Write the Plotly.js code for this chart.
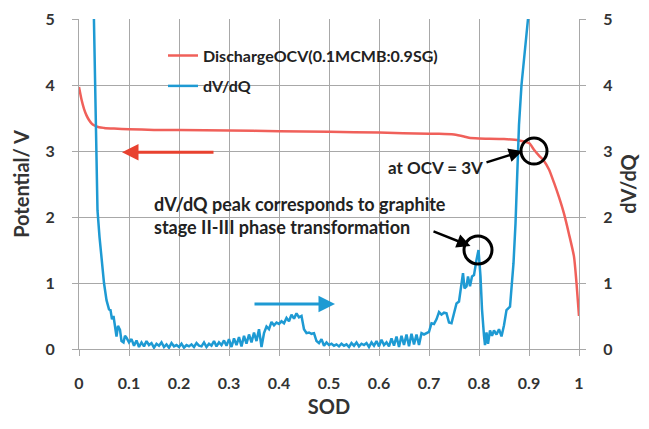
<!DOCTYPE html>
<html>
<head>
<meta charset="utf-8">
<script src="https://cdn.plot.ly/plotly-3.0.1.min.js"></script>
<style>html,body{margin:0;padding:0;background:#fff;}#chart{width:649px;height:429px;}</style>
</head>
<body>
<div id="chart"></div>
<script>
// Discharge OCV curve (left axis, V)
const ocvSOD = [0, 0.005, 0.01, 0.015, 0.02, 0.025, 0.03, 0.04, 0.05, 0.07, 0.1, 0.15, 0.2, 0.3, 0.4, 0.5, 0.6, 0.7, 0.72, 0.75, 0.77, 0.78, 0.8, 0.85, 0.88, 0.9, 0.91, 0.92, 0.93, 0.94, 0.95, 0.96, 0.97, 0.98, 0.99, 0.995, 1.0];
const ocvV = [3.97, 3.78, 3.64, 3.54, 3.47, 3.42, 3.39, 3.36, 3.35, 3.34, 3.33, 3.32, 3.32, 3.31, 3.30, 3.29, 3.28, 3.26, 3.26, 3.25, 3.22, 3.20, 3.19, 3.18, 3.16, 3.12, 3.02, 2.93, 2.85, 2.72, 2.52, 2.30, 2.05, 1.74, 1.40, 1.00, 0.50];

// dV/dQ curve (right axis)
const dvdqSOD = [0.02, 0.025, 0.029, 0.032, 0.034, 0.037, 0.041, 0.045, 0.05, 0.055, 0.06, 0.063, 0.066, 0.069, 0.072, 0.075, 0.078, 0.082, 0.085, 0.089, 0.092, 0.095, 0.1,
  0.105, 0.11, 0.115, 0.12, 0.125, 0.13, 0.135, 0.14, 0.145, 0.15, 0.155, 0.16, 0.165, 0.17, 0.175, 0.18, 0.185, 0.19, 0.195, 0.2,
  0.205, 0.21, 0.215, 0.22, 0.225, 0.23, 0.235, 0.24, 0.245, 0.25, 0.255, 0.26, 0.265, 0.27, 0.275, 0.28, 0.285, 0.29, 0.295, 0.3,
  0.305, 0.31, 0.315, 0.32, 0.325, 0.33, 0.335, 0.34, 0.345, 0.35, 0.355, 0.36, 0.365, 0.37, 0.375, 0.38, 0.385, 0.39, 0.395, 0.4,
  0.405, 0.41, 0.415, 0.42, 0.425, 0.43, 0.435, 0.44, 0.445, 0.45, 0.455, 0.46, 0.465, 0.47, 0.475, 0.48, 0.485, 0.49, 0.495, 0.5,
  0.505, 0.51, 0.515, 0.52, 0.525, 0.53, 0.535, 0.54, 0.545, 0.55, 0.555, 0.56, 0.565, 0.57, 0.575, 0.58, 0.585, 0.59, 0.595, 0.6,
  0.605, 0.61, 0.615, 0.62, 0.625, 0.63, 0.635, 0.64, 0.645, 0.65, 0.655, 0.66, 0.665, 0.67, 0.675, 0.68, 0.685, 0.69, 0.695, 0.7,
  0.705, 0.71, 0.715, 0.72, 0.725, 0.73, 0.735, 0.74, 0.745, 0.75, 0.755, 0.76, 0.765, 0.768, 0.771, 0.775, 0.778, 0.782, 0.786, 0.79, 0.795, 0.799,
  0.803, 0.806, 0.81, 0.812, 0.815, 0.818, 0.822, 0.826, 0.83, 0.835, 0.84, 0.845, 0.85, 0.855, 0.862, 0.866, 0.869, 0.873, 0.877, 0.88, 0.885, 0.89, 0.898, 0.905];
const dvdqVal = [9, 7, 5.0, 4.0, 3.36, 2.1, 1.7, 1.35, 1.0, 0.74, 0.6, 0.59, 0.45, 0.5, 0.3, 0.19, 0.35, 0.29, 0.12, 0.10, 0.2, 0.17, 0.1,
  0.15, 0.05, 0.13, 0.03, 0.1, 0.04, 0.12, 0.06, 0.09, 0.02, 0.08, 0.05, 0.1, 0.03, 0.07, 0.02, 0.09, 0.04, 0.06, 0.03,
  0.08, 0.02, 0.06, 0.04, 0.07, 0.03, 0.09, 0.05, 0.04, 0.1, 0.03, 0.08, 0.05, 0.12, 0.04, 0.1, 0.06, 0.13, 0.05, 0.15,
  0.03, 0.16, 0.06, 0.18, 0.04, 0.2, 0.08, 0.22, 0.1, 0.25, 0.12, 0.3, 0.03, 0.24, 0.34, 0.3, 0.41, 0.36, 0.4, 0.38,
  0.42, 0.39, 0.47, 0.42, 0.52, 0.46, 0.54, 0.48, 0.5, 0.3, 0.24, 0.25, 0.23, 0.24, 0.12, 0.09, 0.15, 0.05, 0.1, 0.06,
  0.08, 0.05, 0.07, 0.04, 0.08, 0.05, 0.07, 0.03, 0.09, 0.05, 0.1, 0.04, 0.08, 0.06, 0.09, 0.03, 0.1, 0.05, 0.12, 0.04,
  0.14, 0.06, 0.1, 0.04, 0.16, 0.05, 0.19, 0.03, 0.2, 0.06, 0.22, 0.04, 0.23, 0.07, 0.22, 0.06, 0.24, 0.22, 0.24, 0.26,
  0.39, 0.38, 0.45, 0.56, 0.52, 0.55, 0.54, 0.4, 0.39, 0.55, 0.69, 0.72, 1.05, 1.15, 0.92, 0.95, 1.1, 0.95, 1.1, 1.12, 1.35, 1.5,
  1.1, 0.6, 0.2, 0.06, 0.25, 0.08, 0.28, 0.2, 0.28, 0.22, 0.3, 0.19, 0.36, 0.59, 0.64, 1.0, 1.3, 1.9, 2.8, 3.4, 4.0, 4.4, 5.0, 6.0];

const seriesNames = ['DischargeOCV(0.1MCMB:0.9SG)', 'dV/dQ'];
const xTicks = [0, 0.1, 0.2, 0.3, 0.4, 0.5, 0.6, 0.7, 0.8, 0.9, 1];
const yTicks = [0, 1, 2, 3, 4, 5];

const RED = '#f0605a', BLUE = '#1e9ad3', TXT = '#333333', GRID = '#a8a8a8';
const FONT = 'Lato, "Open Sans", sans-serif';

const traces = [
  {x: ocvSOD, y: ocvV, name: seriesNames[0], type: 'scatter', mode: 'lines', line: {color: RED, width: 2.5, shape: 'spline', smoothing: 0.6}, yaxis: 'y', legend: 'legend'},
  {x: dvdqSOD, y: dvdqVal, name: seriesNames[1], type: 'scatter', mode: 'lines', line: {color: BLUE, width: 2.5}, yaxis: 'y2', legend: 'legend2'}
];

const tickFont = {family: FONT, size: 16, color: TXT, weight: 'bold'};
const titleFont = {family: FONT, size: 20, color: TXT, weight: 'bold'};
const annFont = {family: FONT, size: 18, color: '#222', weight: 'bold'};
const legFont = {family: FONT, size: 16, color: '#222', weight: 'bold'};

const layout = {
  width: 649, height: 429,
  margin: {l: 79, r: 70, t: 19, b: 80, pad: 0},
  paper_bgcolor: '#fff', plot_bgcolor: '#fff',
  font: {family: FONT, color: TXT},
  showlegend: true,
  legend: {x: 0.168, y: 0.889, xanchor: 'left', yanchor: 'middle', bgcolor: 'rgba(0,0,0,0)', font: legFont, itemwidth: 30},
  legend2: {x: 0.168, y: 0.797, xanchor: 'left', yanchor: 'middle', bgcolor: 'rgba(0,0,0,0)', font: legFont, itemwidth: 30},
  xaxis: {
    range: [0, 1], tickvals: xTicks, ticktext: xTicks.map(String),
    showgrid: true, gridcolor: GRID, gridwidth: 1, zeroline: false,
    showline: true, linecolor: GRID, linewidth: 1,
    ticks: 'outside', ticklen: 6, tickcolor: GRID, tickfont: tickFont, ticklabelstandoff: 14,
    title: {text: 'SOD', font: titleFont, standoff: 8}
  },
  yaxis: {
    range: [0, 5], tickvals: yTicks, ticktext: yTicks.map(String),
    showgrid: true, gridcolor: GRID, gridwidth: 1, zeroline: false,
    showline: true, linecolor: GRID, linewidth: 1,
    ticks: 'outside', ticklen: 6, tickcolor: GRID, tickfont: tickFont, ticklabelstandoff: 14,
    title: {text: 'Potential/ V', font: titleFont, standoff: 10}
  },
  yaxis2: {
    range: [0, 5], tickvals: yTicks, ticktext: yTicks.map(String), overlaying: 'y', side: 'right',
    showgrid: false, zeroline: false,
    showline: true, linecolor: GRID, linewidth: 1,
    ticks: 'outside', ticklen: 6, tickcolor: GRID, tickfont: tickFont, ticklabelstandoff: 14,
    title: {text: 'dV/dQ', font: titleFont, standoff: 10}
  },
  shapes: [
    {type: 'circle', xref: 'x', yref: 'y', xsizemode: 'pixel', ysizemode: 'pixel', xanchor: 0.91, yanchor: 3.0, x0: -13, x1: 13, y0: -13, y1: 13, line: {color: '#000', width: 3}},
    {type: 'circle', xref: 'x', yref: 'y', xsizemode: 'pixel', ysizemode: 'pixel', xanchor: 0.798, yanchor: 1.5, x0: -14, x1: 14, y0: -14, y1: 14, line: {color: '#000', width: 3}}
  ],
  annotations: [
    {x: 0.086, y: 2.98, ax: 0.272, ay: 2.98, xref: 'x', yref: 'y', axref: 'x', ayref: 'y', text: '', showarrow: true, arrowhead: 2, arrowsize: 1.1, arrowwidth: 3, arrowcolor: '#e8412f'},
    {x: 0.512, y: 0.68, ax: 0.348, ay: 0.68, xref: 'x', yref: 'y', axref: 'x', ayref: 'y', text: '', showarrow: true, arrowhead: 2, arrowsize: 1.1, arrowwidth: 3, arrowcolor: BLUE},
    {x: 0.887, y: 3.0, ax: 0.812, ay: 2.82, xref: 'x', yref: 'y', axref: 'x', ayref: 'y', text: '', showarrow: true, arrowhead: 2, arrowsize: 1.1, arrowwidth: 2.5, arrowcolor: '#000'},
    {x: 0.712, y: 2.75, xref: 'x', yref: 'y', text: 'at OCV = 3V', showarrow: false, font: {family: FONT, size: 17, color: '#222', weight: 'bold'}, xanchor: 'center', yanchor: 'middle'},
    {x: 0.783, y: 1.56, ax: 0.706, ay: 1.79, xref: 'x', yref: 'y', axref: 'x', ayref: 'y', text: '', showarrow: true, arrowhead: 2, arrowsize: 1.1, arrowwidth: 2.5, arrowcolor: '#000'},
    {x: 0.146, y: 2.03, xref: 'x', yref: 'y', text: 'dV/dQ peak corresponds to graphite<br>stage II-III phase transformation', showarrow: false, font: annFont, xanchor: 'left', yanchor: 'middle', align: 'left'}
  ]
};

Plotly.newPlot('chart', traces, layout, {displayModeBar: false, staticPlot: true});
</script>
</body>
</html>
